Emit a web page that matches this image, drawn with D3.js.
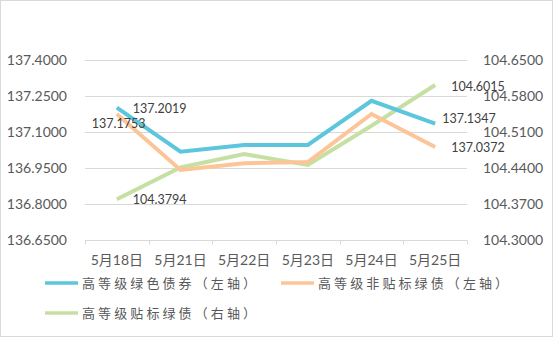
<!DOCTYPE html>
<html>
<head>
<meta charset="utf-8">
<script src="https://cdn.jsdelivr.net/npm/d3@7/dist/d3.min.js"></script>
<style>
  html, body { margin: 0; padding: 0; background: #fff; }
  svg { display: block; }
</style>
</head>
<body>
<script>
// Dates on the category axis
const categories = ["5月18日", "5月21日", "5月22日", "5月23日", "5月24日", "5月25日"];

// Left-axis series
const greenBond = [137.2019, 137.018, 137.046, 137.046, 137.230, 137.1347];
const unlabeledGreen = [137.1753, 136.942, 136.970, 136.975, 137.175, 137.0372];
// Right-axis series
const labeledGreen = [104.3794, 104.441, 104.467, 104.446, 104.522, 104.6015];

// Axis ticks
const leftTicks = [136.65, 136.80, 136.95, 137.10, 137.25, 137.40];
const rightTicks = [104.30, 104.37, 104.44, 104.51, 104.58, 104.65];

const seriesNames = ["高等级绿色债券（左轴）", "高等级非贴标绿债（左轴）", "高等级贴标绿债（右轴）"];
const colors = ["#5cc6dc", "#fcc598", "#c6e0a3"];

const W = 555, H = 337;
const plot = { left: 85, right: 467, top: 60, bottom: 240 };

const svg = d3.select("body").append("svg").attr("width", W).attr("height", H);

svg.append("rect").attr("x", 0.5).attr("y", 0.5).attr("width", 552).attr("height", 336)
  .attr("fill", "#fff").attr("stroke", "#d9d9d9");

const x = d3.scaleBand().domain(categories).range([plot.left, plot.right]);
const yL = d3.scaleLinear().domain([136.65, 137.40]).range([plot.bottom, plot.top]);
const yR = d3.scaleLinear().domain([104.30, 104.65]).range([plot.bottom, plot.top]);
const cx = c => x(c) + x.bandwidth() / 2;

const textColor = "#595959";
const font = "Lato, 'Noto Sans CJK SC', sans-serif";

// gridlines
svg.append("g").selectAll("line").data(leftTicks.slice(1)).join("line")
  .attr("x1", plot.left).attr("x2", plot.right)
  .attr("y1", d => Math.round(yL(d)) + 0.5).attr("y2", d => Math.round(yL(d)) + 0.5)
  .attr("stroke", "#d9d9d9").attr("stroke-width", 1);

// left axis
const gL = svg.append("g").attr("transform", `translate(${plot.left - 18},0)`)
  .call(d3.axisLeft(yL).tickValues(leftTicks).tickFormat(d3.format(".4f")).tickSize(0).tickPadding(0));
gL.select(".domain").remove();
gL.selectAll("text").attr("fill", textColor).style("font-family", font).style("font-size", "14px");

// right axis
const gR = svg.append("g").attr("transform", `translate(${plot.right + 16},0)`)
  .call(d3.axisRight(yR).tickValues(rightTicks).tickFormat(d3.format(".4f")).tickSize(0).tickPadding(0));
gR.select(".domain").remove();
gR.selectAll("text").attr("fill", textColor).style("font-family", font).style("font-size", "14px");

// category axis with ticks between categories
const gX = svg.append("g").attr("transform", `translate(0,${plot.bottom + 0.5})`);
gX.append("line").attr("x1", plot.left).attr("x2", plot.right).attr("stroke", "#d9d9d9");
const bounds = categories.map(c => x(c)).concat([plot.right]);
gX.selectAll("line.tk").data(bounds).join("line").attr("class", "tk")
  .attr("x1", d => Math.round(d) + 0.5).attr("x2", d => Math.round(d) + 0.5)
  .attr("y1", 0).attr("y2", 4).attr("stroke", "#d9d9d9");
gX.selectAll("text").data(categories).join("text")
  .attr("x", d => cx(d)).attr("y", 20).attr("dy", "0.35em")
  .attr("text-anchor", "middle").attr("fill", textColor)
  .style("font-family", font).style("font-size", "14px").text(d => d);

// lines
const lineL = d3.line().x((d, i) => cx(categories[i])).y(d => yL(d));
const lineR = d3.line().x((d, i) => cx(categories[i])).y(d => yR(d));
const drawn = [
  { data: greenBond, gen: lineL, color: colors[0] },
  { data: unlabeledGreen, gen: lineL, color: colors[1] },
  { data: labeledGreen, gen: lineR, color: colors[2] }
];
svg.append("g").selectAll("path").data([drawn[2], drawn[1], drawn[0]]).join("path")
  .attr("d", d => d.gen(d.data)).attr("fill", "none")
  .attr("stroke", d => d.color).attr("stroke-width", 4)
  .attr("stroke-linejoin", "miter");

// value labels at first and last points
const fmt = d3.format(".4f");
const labels = [
  { v: greenBond[0], x: cx(categories[0]) + 16, y: yL(greenBond[0]) + 1 },
  { v: unlabeledGreen[0], x: cx(categories[0]) - 25, y: yL(unlabeledGreen[0]) + 10 },
  { v: labeledGreen[0], x: cx(categories[0]) + 16, y: yR(labeledGreen[0]) },
  { v: labeledGreen[5], x: cx(categories[5]) + 16, y: yR(labeledGreen[5]) + 2 },
  { v: greenBond[5], x: cx(categories[5]) + 7, y: yL(greenBond[5]) - 5 },
  { v: unlabeledGreen[5], x: cx(categories[5]) + 16, y: yL(unlabeledGreen[5]) + 1 }
];
svg.append("g").selectAll("text").data(labels).join("text")
  .attr("x", d => d.x).attr("y", d => d.y).attr("dy", "0.35em")
  .attr("fill", "#404040")
  .style("font-family", font).style("font-size", "12.5px")
  .text(d => fmt(d.v));

// legend
const legendItems = [
  { name: seriesNames[0], color: colors[0], x: 45, y: 283 },
  { name: seriesNames[1], color: colors[1], x: 281, y: 283 },
  { name: seriesNames[2], color: colors[2], x: 45, y: 313 }
];
const lg = svg.append("g").selectAll("g").data(legendItems).join("g")
  .attr("transform", d => `translate(${d.x},${d.y})`);
lg.append("line").attr("x1", 0).attr("x2", 33).attr("stroke", d => d.color).attr("stroke-width", 3.5);
lg.append("text").attr("x", 37).attr("dy", "0.35em").attr("fill", textColor)
  .style("font-family", "'Noto Sans CJK SC', sans-serif").style("font-size", "13px")
  .style("letter-spacing", "3.1px").text(d => d.name);
</script>
</body>
</html>
